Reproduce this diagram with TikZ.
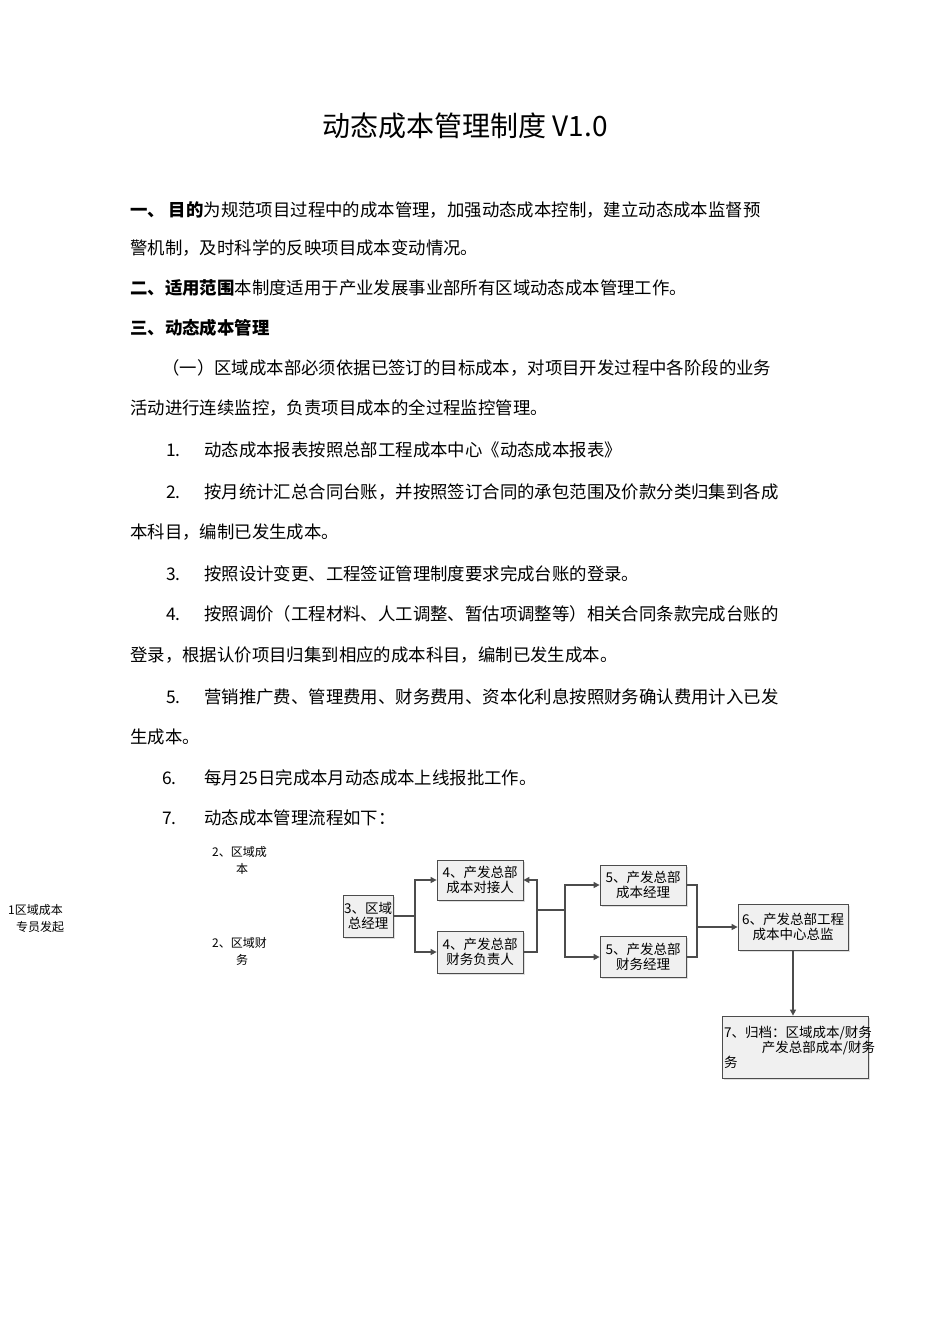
\documentclass[tikz,border=0pt]{standalone}
\usepackage{fontspec}
\setmainfont{Noto Sans CJK SC}
\usetikzlibrary{arrows.meta,shadows}
\begin{document}
\begin{tikzpicture}[x=1pt,y=-1pt,
  body/.style={anchor=base west,inner sep=0,font=\fontsize{17.4}{20}\selectfont},
  fbox/.style={draw=black!70,fill=black!6,line width=0.8pt,drop shadow={shadow xshift=1.5pt,shadow yshift=-1.5pt,fill=black!25},font=\fontsize{13.5}{15}\selectfont,align=center,inner sep=1pt},
  small/.style={anchor=base west,inner sep=0,font=\fontsize{12}{14}\selectfont},
  conn/.style={draw=black!70,line width=1.2pt},
  arr/.style={conn,-{Triangle[length=6pt,width=6pt]}}]
\useasboundingbox (0,0) rectangle (950,1344);
\node[anchor=base,inner sep=0,font=\fontsize{28}{30}\selectfont] (title) at (465,136) {动态成本管理制度 V1.0};
\node[body] (l1) at (130,216) {\textbf{一、\ 目的}为规范项目过程中的成本管理，加强动态成本控制，建立动态成本监督预};
\node[body] (l2) at (130,254) {警机制，及时科学的反映项目成本变动情况。};
\node[body] (l3) at (130,294) {\textbf{二、适用范围}本制度适用于产业发展事业部所有区域动态成本管理工作。};
\node[body] (l4) at (130,334) {\textbf{三、动态成本管理}};
\node[body] (l5) at (162,374) {（一）区域成本部必须依据已签订的目标成本，对项目开发过程中各阶段的业务};
\node[body] (l6) at (130,414) {活动进行连续监控，负责项目成本的全过程监控管理。};
\node[body] (n1) at (166,456) {1.};
\node[body] (t1) at (204,456) {动态成本报表按照总部工程成本中心《动态成本报表》};
\node[body] (n2) at (166,498) {2.};
\node[body] (t2) at (204,498) {按月统计汇总合同台账，并按照签订合同的承包范围及价款分类归集到各成};
\node[body] (t2b) at (130,538) {本科目，编制已发生成本。};
\node[body] (n3) at (166,580) {3.};
\node[body] (t3) at (204,580) {按照设计变更、工程签证管理制度要求完成台账的登录。};
\node[body] (n4) at (166,620) {4.};
\node[body] (t4) at (204,620) {按照调价（工程材料、人工调整、暂估项调整等）相关合同条款完成台账的};
\node[body] (t4b) at (130,661) {登录，根据认价项目归集到相应的成本科目，编制已发生成本。};
\node[body] (n5) at (166,703) {5.};
\node[body] (t5) at (204,703) {营销推广费、管理费用、财务费用、资本化利息按照财务确认费用计入已发};
\node[body] (t5b) at (130,743) {生成本。};
\node[body] (n6) at (162,784) {6.};
\node[body] (t6) at (204,784) {每月25日完成本月动态成本上线报批工作。};
\node[body] (n7) at (162,824) {7.};
\node[body] (t7) at (204,824) {动态成本管理流程如下：};
% left small texts
\node[small] (s1) at (8,914) {1区域成本};
\node[small] (s1b) at (16,931) {专员发起};
\node[small] (s2) at (212,856) {2、区域成};
\node[small] (s2b) at (236,873) {本};
\node[small] (s3) at (212,947) {2、区域财};
\node[small] (s3b) at (236,964) {务};
% boxes
\node[fbox,minimum width=50pt,minimum height=42pt] (b3) at (368,916) {3、区域\\总经理};
\node[fbox,minimum width=86pt,minimum height=40pt] (b4a) at (480,880) {4、产发总部\\成本对接人};
\node[fbox,minimum width=86pt,minimum height=42pt] (b4b) at (480,952) {4、产发总部\\财务负责人};
\node[fbox,minimum width=86pt,minimum height=40pt] (b5a) at (643,885) {5、产发总部\\成本经理};
\node[fbox,minimum width=86pt,minimum height=41pt] (b5b) at (643,957) {5、产发总部\\财务经理};
\node[fbox,minimum width=110pt,minimum height=46pt] (b6) at (793,927) {6、产发总部工程\\成本中心总监};
\node[fbox,minimum width=146pt,minimum height=62pt,align=left,text width=142pt] (b7) at (795,1047) {7、归档：区域成本/财务\\\hspace*{2.8em}产发总部成本/财务\\务};
% connectors
\coordinate (j1) at (415,916);
\coordinate (j2) at (537,910);
\coordinate (j3) at (565,910);
\coordinate (j4) at (697,927);
\draw[conn] (b3.east) -- (j1);
\draw[arr] (j1) |- (b4a.west);
\draw[arr] (j1) |- (b4b.west);
\draw[arr] (j2) |- (b4a.east);
\draw[conn] (j2) |- (b4b.east);
\draw[conn] (j2) -- (j3);
\draw[arr] (j3) |- (b5a.west);
\draw[arr] (j3) |- (b5b.west);
\draw[conn] (b5a.east) -| (j4);
\draw[conn] (b5b.east) -| (j4);
\draw[arr] (j4) -- (b6.west);
\draw[arr] (b6.south) -- (b7.north -| b6.south);
\end{tikzpicture}
\end{document}
